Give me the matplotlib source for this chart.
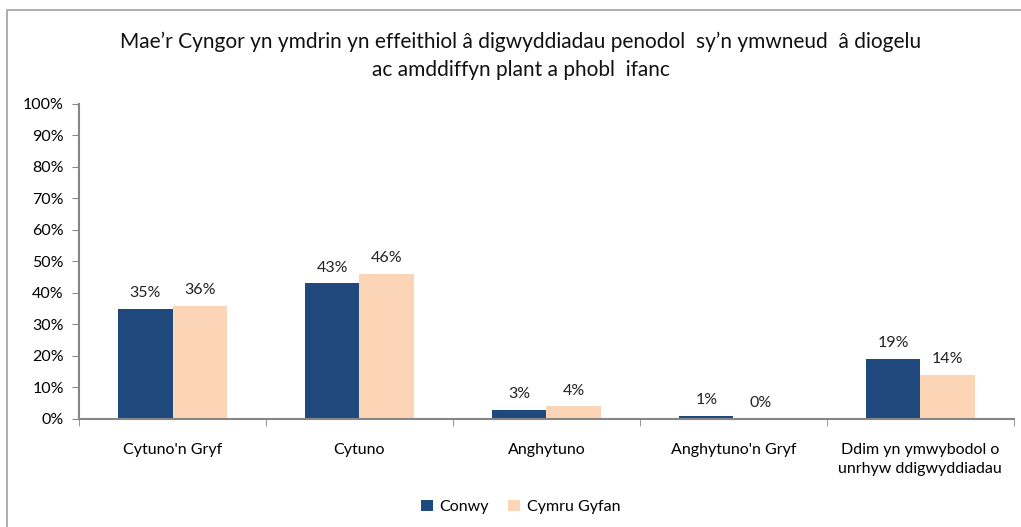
import numpy as np
import matplotlib
matplotlib.use('Agg')
import matplotlib.pyplot as plt
from matplotlib.patches import Rectangle

plt.rcParams['font.family'] = ['Lato', 'DejaVu Sans']

# data
categories = ["Cytuno'n Gryf", 'Cytuno', 'Anghytuno', "Anghytuno'n Gryf",
              'Ddim yn ymwybodol o\nunrhyw ddigwyddiadau']
conwy = [35, 43, 3, 1, 19]
cymru = [36, 46, 4, 0, 14]
series_names = ['Conwy', 'Cymru Gyfan']
title = ('Mae\u2019r Cyngor yn ymdrin yn effeithiol \u00e2 digwyddiadau penodol  sy\u2019n ymwneud  \u00e2 diogelu\n'
         'ac amddiffyn plant a phobl  ifanc')

c_conwy = '#1F497D'
c_cymru = '#FBD5B5'
grey = '#868686'
fs = 11.5

fig = plt.figure(figsize=(10.21, 5.27), dpi=100)
ax = fig.add_axes([0.0774, 0.205, 0.9156, 0.598])

# outer chart border (runs off the right and bottom edge)
fig.patches.append(Rectangle((7 / 1021, -0.05), 1.1, 1 - 10 / 527 + 0.05,
                             transform=fig.transFigure, fill=False,
                             edgecolor='#A0A0A0', linewidth=1.2))

x = np.arange(len(categories))
w = 0.29
b1 = ax.bar(x - w / 2, conwy, w, color=c_conwy, label=series_names[0])
b2 = ax.bar(x + w / 2, cymru, w, color=c_cymru, label=series_names[1])

for bars, vals in ((b1, conwy), (b2, cymru)):
    for r, v in zip(bars, vals):
        ax.text(r.get_x() + r.get_width() / 2, v + 2.8, f'{v}%',
                ha='center', va='bottom', fontsize=fs, color='#222222')

ax.set_xlim(-0.5, len(categories) - 0.5)
ax.set_ylim(0, 100)
ax.set_yticks(np.arange(0, 101, 10))
ax.set_yticklabels([f'{v}%' for v in range(0, 101, 10)], fontsize=fs)
ax.set_xticks(x)
ax.set_xticklabels(categories, fontsize=fs, linespacing=1.5)
ax.set_xticks(np.arange(-0.5, len(categories)), minor=True)
ax.tick_params(axis='x', which='major', length=0, pad=17)
ax.tick_params(axis='x', which='minor', length=5, color=grey)
ax.tick_params(axis='y', length=5, color=grey, pad=6)

for s in ('top', 'right'):
    ax.spines[s].set_visible(False)
for s in ('left', 'bottom'):
    ax.spines[s].set_color(grey)
    ax.spines[s].set_linewidth(1.5)

fig.text(0.51, 0.895, title, ha='center', va='center', fontsize=15,
         linespacing=1.5, color='#111111')

fig.legend(handles=[b1, b2], loc='center', bbox_to_anchor=(0.51, 0.038),
           ncol=2, frameon=False, fontsize=fs, handlelength=0.75,
           handleheight=0.75, handletextpad=0.4, columnspacing=1.2)

fig.savefig('out.png', dpi=100)
